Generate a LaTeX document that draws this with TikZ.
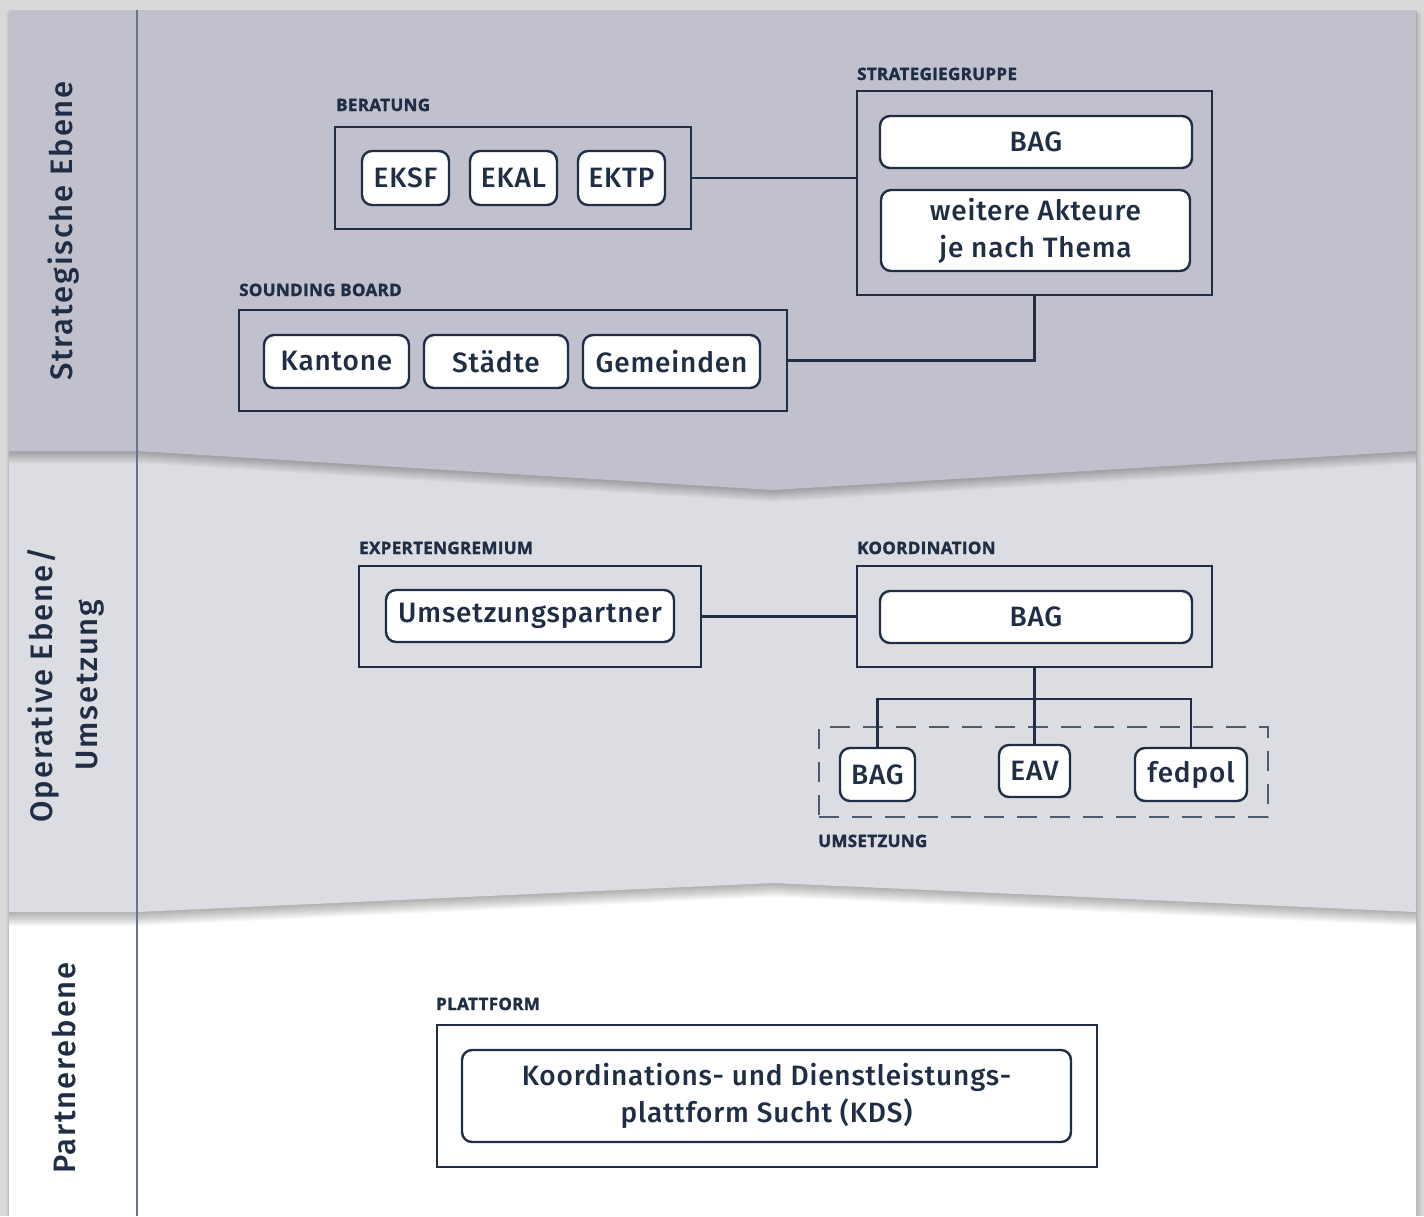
\documentclass[tikz,border=0pt]{standalone}
\usepackage{fontspec}
\setmainfont{Fira Sans}
\newfontfamily\boxfont{Fira Sans Medium}[LetterSpace=3]
\newfontfamily\sidefont{Fira Sans Medium}[LetterSpace=6]
\newfontfamily\headfont{Open Sans Bold}[FakeBold=1.6, LetterSpace=2]
\definecolor{navy}{HTML}{1F2D45}
\definecolor{topband}{HTML}{C1C1CD}
\definecolor{midband}{HTML}{DCDDE2}
\definecolor{pagebg}{HTML}{D9D9D9}
\definecolor{sepline}{HTML}{66758B}
\definecolor{dashcol}{HTML}{4E5A6E}
\tikzset{
  grp/.style={draw=navy, line width=2.4pt, rectangle, inner sep=0pt},
  item/.style={draw=navy, fill=white, line width=2.4pt, rounded corners=10pt, inner sep=0pt, font=\boxfont\fontsize{28}{37}\selectfont, text=navy, align=center},
  head/.style={anchor=base west, inner sep=0pt, font=\headfont\fontsize{17}{19}\selectfont, text=navy},
  side/.style={rotate=90, inner sep=0pt, font=\sidefont\fontsize{31}{45}\selectfont, text=navy, align=center},
  conn/.style={draw=navy, line width=2.4pt},
}
\begin{document}
\begin{tikzpicture}[x=1pt,y=-1pt]
\useasboundingbox (0,0) rectangle (1424,1216);
% page background
\fill[pagebg] (0,0) rectangle (1424,1216);
\foreach \k in {1,...,6} {
  \fill[black, opacity=0.025] (9-\k*0.5,10+\k*0.5) rectangle (1416+\k,1216);
}
% white bottom panel
\fill[white] (9,10) rectangle (1416,1216);
% middle band shadow
\foreach \k in {1,...,14} {
  \fill[black, opacity=0.022] (9,10) -- (1416,10) -- (1416,912+\k) -- (773,883+\k) -- (137,912+\k) -- (9,912+\k) -- cycle;
}
\fill[midband] (9,10) -- (1416,10) -- (1416,912) -- (773,883) -- (137,912) -- (9,912) -- cycle;
% top band shadow
\foreach \k in {1,...,12} {
  \fill[black, opacity=0.022] (9,10) -- (1416,10) -- (1416,451+\k) -- (773,490+\k) -- (137,451+\k) -- (9,451+\k) -- cycle;
}
\fill[topband] (9,10) -- (1416,10) -- (1416,451) -- (773,490) -- (137,451) -- (9,451) -- cycle;
% separator
\draw[sepline, line width=1.6pt] (137,10) -- (137,1216);

% side labels
\node[side] (lstrat) at (64,231) {Strategische Ebene};
\node[side] (loper) at (66,685) {Operative Ebene/\\Umsetzung};
\node[side] (lpart) at (64,1068) {Partnerebene};

% ---- strategic level
\node[head] (hberat) at (336,111) {BERATUNG};
\node[grp, minimum width=356pt, minimum height=102pt] (berat) at (513,178) {};
\node[item, minimum width=87pt, minimum height=54pt] (eksf) at (405.5,178) {EKSF};
\node[item, minimum width=87pt, minimum height=54pt] (ekal) at (513.5,178) {EKAL};
\node[item, minimum width=87pt, minimum height=54pt] (ektp) at (621.5,178) {EKTP};

\node[head] (hstrat) at (857,80) {STRATEGIEGRUPPE};
\node[grp, minimum width=355pt, minimum height=204pt] (strat) at (1034.5,193) {};
\node[item, minimum width=312pt, minimum height=52pt] (bag1) at (1036,142) {BAG};
\node[item, minimum width=309pt, minimum height=81pt] (weitere) at (1035.5,230.5) {weitere Akteure\\je nach Thema};

\node[head] (hsb) at (239,296) {SOUNDING BOARD};
\node[grp, minimum width=548pt, minimum height=101pt] (sb) at (513,360.5) {};
\node[item, minimum width=145pt, minimum height=53pt] (kant) at (336.5,361.5) {Kantone};
\node[item, minimum width=144pt, minimum height=53pt] (staedte) at (496,361.5) {Städte};
\node[item, minimum width=177pt, minimum height=53pt] (gem) at (671.5,361.5) {Gemeinden};

\draw[conn] (berat.east) -- (berat.east -| strat.west);
\draw[conn] (sb.east) -| (strat.south);

% ---- operative level
\node[head] (hexp) at (359,554) {EXPERTENGREMIUM};
\node[grp, minimum width=342pt, minimum height=101pt] (exp) at (530,616.5) {};
\node[item, minimum width=288pt, minimum height=52pt] (usp) at (530,616) {Umsetzungspartner};

\node[head] (hkoord) at (857,554) {KOORDINATION};
\node[grp, minimum width=355pt, minimum height=101pt] (koord) at (1034.5,616.5) {};
\node[item, minimum width=312pt, minimum height=52pt] (bag2) at (1036,617) {BAG};

\draw[conn] (exp.east) -- (exp.east -| koord.west);

\node[draw=dashcol, line width=1.4pt, dash pattern=on 20pt off 13pt, minimum width=449pt, minimum height=90pt, inner sep=0pt] (ums) at (1043.5,772) {};
\node[item, minimum width=75pt, minimum height=53pt] (bag3) at (877.5,774.5) {BAG};
\node[item, minimum width=71pt, minimum height=52pt] (eav) at (1034.5,771) {EAV};
\node[item, minimum width=112pt, minimum height=53pt] (fed) at (1191,774.5) {fedpol};
\coordinate (j) at (1034.5,699);
\draw[conn] (koord.south) -- (eav.north);
\draw[conn] (bag3.north) |- (j) -| (fed.north);
\node[head] (hums) at (818,847) {UMSETZUNG};

% ---- partner level
\node[head] (hplat) at (436,1010) {PLATTFORM};
\node[grp, minimum width=660pt, minimum height=142pt] (plat) at (767,1096) {};
\node[item, minimum width=609pt, minimum height=92pt] (kds) at (766.5,1096) {Koordinations- und Dienstleistungs-\\plattform Sucht (KDS)};
\end{tikzpicture}
\end{document}
